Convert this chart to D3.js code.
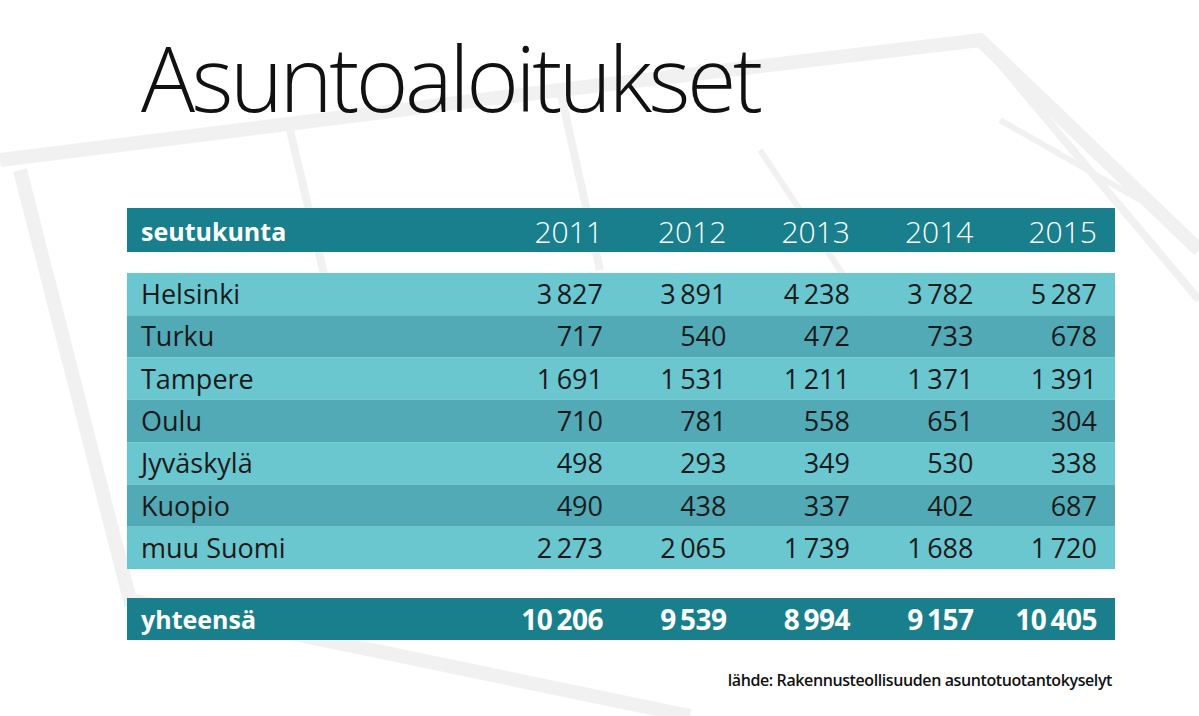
<!DOCTYPE html>
<html><head><meta charset="utf-8">
<script src="https://cdn.jsdelivr.net/npm/d3@7"></script>
<style>body{margin:0;background:#fff}svg{display:block}</style>
</head><body><svg id="c" width="1199" height="716"></svg>
<script>
const years = ["2011","2012","2013","2014","2015"];
const regions = ["Helsinki","Turku","Tampere","Oulu","Jyväskylä","Kuopio","muu Suomi"];
const values = [
  [3827,3891,4238,3782,5287],
  [717,540,472,733,678],
  [1691,1531,1211,1371,1391],
  [710,781,558,651,304],
  [498,293,349,530,338],
  [490,438,337,402,687],
  [2273,2065,1739,1688,1720]
];
const totals = [10206,9539,8994,9157,10405];
const headerLabel = "seutukunta", totalLabel = "yhteensä";
const title = "Asuntoaloitukset";
const source = "lähde: Rakennusteollisuuden asuntotuotantokyselyt";

const svg = d3.select("#c");
const F = "'Open Sans', sans-serif";
const fmt = v => { const s = String(v); return s.length>3 ? s.slice(0,-3)+"\u2009"+s.slice(-3) : s; };

const bg = svg.append("g").attr("fill","none").attr("stroke","#f1f1f1").attr("stroke-width",14);
bg.append("path").attr("d","M0,160 L560,90 L980,40 L1199,250");
bg.append("path").attr("d","M20,170 L130,600 L690,716");
bg.append("path").attr("d","M980,40 L1199,300 M560,90 L600,270 M290,130 L330,300").attr("stroke-width",8);
bg.append("path").attr("d","M760,150 L880,330 M1000,120 L1140,200").attr("stroke-width",6);

svg.append("text").attr("x",141).attr("y",112).attr("font-family",F).attr("font-weight",300)
  .attr("font-size",90).attr("fill","#111").attr("letter-spacing",-3.5).text(title);

const x0 = 127, x1 = 1115;
const xr = d3.scalePoint().domain(years).range([603,1097]);
const yb = d3.scaleBand().domain(regions).range([273,569]);

svg.append("rect").attr("x",x0).attr("y",208).attr("width",x1-x0).attr("height",44).attr("fill","#1a7f8c");
svg.append("text").attr("x",141).attr("y",241).attr("font-family",F).attr("font-weight",700)
  .attr("font-size",25).attr("fill","#fff").text(headerLabel);
svg.selectAll(".yh").data(years).join("text").attr("x",d=>xr(d)).attr("y",243)
  .attr("text-anchor","end").attr("font-family",F).attr("font-weight",300).attr("font-size",30)
  .attr("fill","#fff").text(d=>d);

const rows = svg.selectAll(".r").data(regions).join("g");
rows.append("rect").attr("x",x0).attr("y",d=>yb(d)).attr("width",x1-x0).attr("height",yb.bandwidth())
  .attr("fill",(d,i)=>i%2?"#52aab6":"#6ac6cf");
rows.append("text").attr("x",141).attr("y",d=>yb(d)+yb.bandwidth()/2+10).attr("font-family",F)
  .attr("font-size",27).attr("fill","#1a1a1a").text(d=>d);
rows.each(function(d,i){
  d3.select(this).selectAll("text.v").data(values[i]).join("text").attr("class","v")
    .attr("x",(v,j)=>xr(years[j])).attr("y",yb(d)+yb.bandwidth()/2+10).attr("text-anchor","end")
    .attr("font-family",F).attr("font-size",27).attr("fill","#1a1a1a").text(fmt);
});

svg.append("rect").attr("x",x0).attr("y",598).attr("width",x1-x0).attr("height",42).attr("fill","#1a7f8c");
svg.append("text").attr("x",141).attr("y",629).attr("font-family",F).attr("font-weight",700)
  .attr("font-size",25).attr("fill","#fff").text(totalLabel);
svg.selectAll(".t").data(totals).join("text").attr("x",(v,j)=>xr(years[j])).attr("y",630)
  .attr("text-anchor","end").attr("font-family",F).attr("font-weight",700).attr("font-size",28)
  .attr("letter-spacing",-0.5).attr("fill","#fff").text(fmt);

svg.append("text").attr("x",1112).attr("y",686).attr("text-anchor","end").attr("font-family",F)
  .attr("font-size",16).attr("font-weight",600).attr("letter-spacing",-0.4).attr("fill","#111").text(source);
</script></body></html>
